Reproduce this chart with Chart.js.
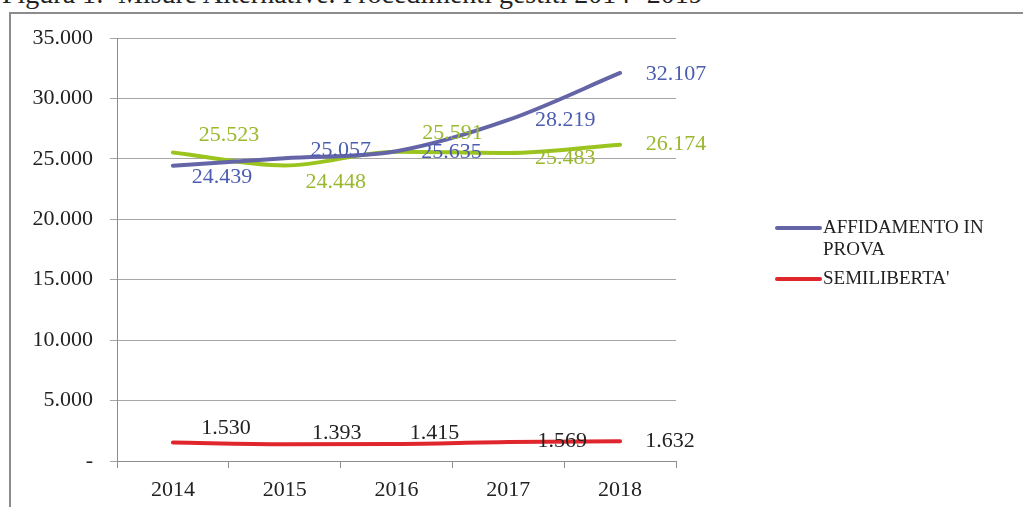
<!DOCTYPE html>
<html>
<head>
<meta charset="utf-8">
<script src="https://cdn.jsdelivr.net/npm/chart.js@4.4.1/dist/chart.umd.min.js"></script>
<style>
  html, body { margin: 0; padding: 0; background: #fff; overflow: hidden; }
  #wrap { position: relative; width: 1023px; height: 507px; }
  #title {
    position: absolute; left: 2px; top: -21px;
    font-family: "Liberation Serif", serif; font-size: 28px; color: #222;
    white-space: nowrap; line-height: 1.1;
  }
  #frame {
    position: absolute; left: 9px; top: 12px; width: 1030px; height: 520px;
    border-left: 2px solid #8c8c8c; border-top: 2px solid #8c8c8c;
  }
  #chartBox { position: absolute; left: 0; top: 0; width: 1023px; height: 507px; }
</style>
</head>
<body>
<div id="wrap">
  <div id="title">Figura 1:&nbsp; Misure Alternative. Procedimenti gestiti 2014 -2019</div>
  <div id="frame"></div>
  <div id="chartBox"><canvas id="myChart"></canvas></div>
</div>
<script>
const years = ['2014', '2015', '2016', '2017', '2018'];
const affidamento = [24439, 25057, 25635, 28219, 32107];
const detenzione = [25523, 24448, 25591, 25483, 26174];
const semiliberta = [1530, 1393, 1415, 1569, 1632];

const fmt = (v) => {
    if (v === 0) return '-';
    return String(v).replace(/\B(?=(\d{3})+(?!\d))/g, '.');
};

// data labels drawn next to each point, offsets tuned by eye
const pointLabels = {
    id: 'pointLabels',
    afterDatasetsDraw(chart) {
        const c = chart.ctx;
        c.save();
        c.font = '22px "Liberation Serif", serif';
        c.textAlign = 'center';
        c.textBaseline = 'middle';
        chart.data.datasets.forEach((ds, i) => {
            const meta = chart.getDatasetMeta(i);
            meta.data.forEach((pt, j) => {
                const off = ds.labelOffsets[j];
                c.fillStyle = ds.labelColor;
                c.fillText(fmt(ds.data[j]), pt.x + off[0], pt.y + off[1]);
            });
        });
        c.restore();
    }
};

const sideLegend = {
    id: 'sideLegend',
    afterDraw(chart) {
        const c = chart.ctx;
        c.save();
        c.font = '19px "Liberation Serif", serif';
        c.textBaseline = 'middle';
        let y = 228;
        chart.data.datasets.forEach(ds => {
            if (!ds.inLegend) return;
            c.strokeStyle = ds.borderColor;
            c.lineWidth = 4;
            c.lineCap = 'round';
            c.beginPath();
            c.moveTo(777, y);
            c.lineTo(820, y);
            c.stroke();
            // simple wrap
            const words = ds.label.split(' ');
            const lines = [];
            let cur = '';
            words.forEach(w => {
                const test = cur ? cur + ' ' + w : w;
                if (c.measureText(test).width > 190 && cur) {
                    lines.push(cur);
                    cur = w;
                } else {
                    cur = test;
                }
            });
            lines.push(cur);
            c.fillStyle = '#222';
            lines.forEach((ln, k) => c.fillText(ln, 823, y + k * 22));
            y += lines.length * 22 + 7;
        });
        c.restore();
    }
};

const ctx = document.getElementById('myChart');

new Chart(ctx, {
    type: 'line',
    data: {
        labels: years,
        datasets: [
            {
                label: 'AFFIDAMENTO IN PROVA',
                data: affidamento,
                borderColor: '#6465a6',
                labelColor: '#4c5db0',
                inLegend: true,
                labelOffsets: [[49, 12], [56, -8], [55, 1], [57, 0], [56, 1]],
                borderWidth: 4,
                cubicInterpolationMode: 'monotone',
                pointRadius: 0,
                borderCapStyle: 'round'
            },
            {
                label: 'DETENZIONE DOMICILIARE',
                data: detenzione,
                borderColor: '#9cc41e',
                labelColor: '#9ab82e',
                inLegend: false,
                labelOffsets: [[56, -17], [51, 17], [56, -18], [57, 5], [56, 0]],
                borderWidth: 4,
                cubicInterpolationMode: 'monotone',
                pointRadius: 0,
                borderCapStyle: 'round'
            },
            {
                label: "SEMILIBERTA'",
                data: semiliberta,
                borderColor: '#e0262d',
                labelColor: '#222',
                inLegend: true,
                labelOffsets: [[53, -14], [52, -11], [38, -11], [54, -1], [50, 0]],
                borderWidth: 4,
                cubicInterpolationMode: 'monotone',
                pointRadius: 0,
                borderCapStyle: 'round'
            }
        ]
    },
    options: {
        responsive: true,
        maintainAspectRatio: false,
        animation: false,
        layout: {
            padding: { left: 0, top: 38, right: 347, bottom: 0 }
        },
        plugins: {
            legend: { display: false },
            tooltip: { enabled: false },
            title: { display: false }
        },
        scales: {
            x: {
                offset: true,
                grid: {
                    offset: true,
                    drawOnChartArea: false,
                    drawTicks: true,
                    tickLength: 7,
                    color: '#8c8c8c',
                    lineWidth: 1
                },
                border: { color: '#8c8c8c', width: 1 },
                ticks: {
                    color: '#222',
                    padding: 9,
                    font: { family: '"Liberation Serif", serif', size: 22 }
                },
                afterFit: (scale) => { scale.height = 46; }
            },
            y: {
                min: 0,
                max: 35000,
                ticks: {
                    stepSize: 5000,
                    color: '#222',
                    padding: 17,
                    callback: (v) => fmt(v),
                    font: { family: '"Liberation Serif", serif', size: 22 }
                },
                grid: {
                    color: '#a6a6a6',
                    lineWidth: 1,
                    tickLength: 7
                },
                border: { color: '#8c8c8c', width: 1 },
                afterFit: (scale) => { scale.width = 117; }
            }
        }
    },
    plugins: [pointLabels, sideLegend]
});
</script>
</body>
</html>
